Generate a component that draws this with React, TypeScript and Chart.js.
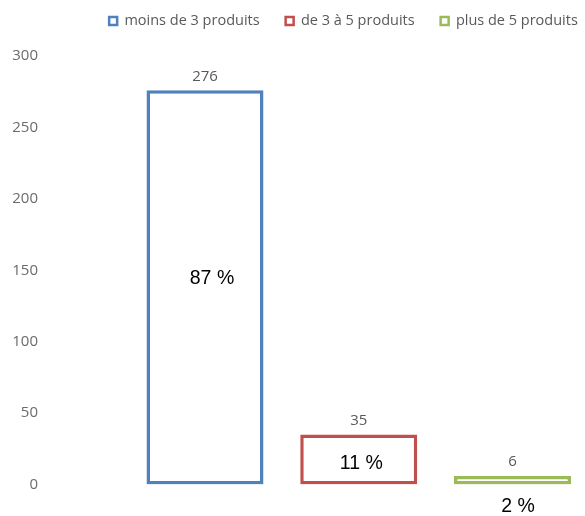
import React, { useEffect, useRef } from 'react';
import { Chart, registerables } from 'chart.js';

Chart.register(...registerables);

// ---- data ----
const categories = ['moins de 3 produits', 'de 3 à 5 produits', 'plus de 5 produits'];
const counts = [276, 35, 6];
const percents = [87, 11, 2];
const yTicks = [0, 50, 100, 150, 200, 250, 300];
const colors = ['#4F81BD', '#C0504D', '#9BBB59'];

// ---- styling / placement ----
const W = 585;
const H = 516;
const GRAY = '#595959';
const TICK_GRAY = '#6b6b6b';
const FONT = 'Open Sans';
// percent label placement relative to each bar
const pctPlacement = [
  { dx: 7, dy: -9, ref: 'mid' },
  { dx: 2.5, dy: 4.5, ref: 'mid' },
  { dx: 5.5, dy: 22, ref: 'base' },
];

const labelPlugin = {
  id: 'barLabels',
  afterDatasetsDraw(chart: any) {
    const ctx = chart.ctx;
    ctx.save();
    ctx.textAlign = 'center';
    ctx.textBaseline = 'middle';
    chart.data.datasets.forEach((_ds: any, i: number) => {
      const meta = chart.getDatasetMeta(i);
      const bar = meta.data[0];
      if (!bar) return;
      const { x, y, base } = bar.getProps(['x', 'y', 'base'], true);
      ctx.fillStyle = GRAY;
      ctx.font = `15px "${FONT}"`;
      ctx.fillText(String(counts[i]), x, y - 14);
      const p = pctPlacement[i];
      const ry = p.ref === 'mid' ? (y + base) / 2 : base;
      ctx.fillStyle = '#000000';
      ctx.font = '19.5px "Liberation Sans", Arial, sans-serif';
      ctx.fillText(`${percents[i]} %`, x + p.dx, ry + p.dy);
    });
    ctx.restore();
  },
};

export default function App() {
  const ref = useRef<HTMLCanvasElement>(null);

  useEffect(() => {
    if (!ref.current) return;
    const yAxisWidth = 60;
    const plotLeft = yAxisWidth;
    const plotRight = W;
    const firstCenter = 205;
    const unit = 153.75;

    const chart = new Chart(ref.current, {
      type: 'bar',
      data: {
        datasets: categories.map((label, i) => ({
          label,
          data: [{ x: i, y: counts[i] }],
          backgroundColor: '#ffffff',
          borderColor: colors[i],
          borderWidth: 3.5,
          borderSkipped: false,
          grouped: false,
          categoryPercentage: 1,
          barPercentage: 0.761,
        })),
      },
      options: {
        responsive: false,
        animation: false,
        devicePixelRatio: 1,
        layout: { padding: { top: -12.25, right: -102, bottom: 31.5, left: 0 } },
        plugins: {
          tooltip: { enabled: false },
          legend: {
            position: 'top',
            align: 'center',
            labels: {
              color: GRAY,
              font: { family: FONT, size: 14.5 },
              boxWidth: 8,
              boxHeight: 8,
              padding: 26,
              generateLabels: (c: any) =>
                Chart.defaults.plugins.legend.labels
                  .generateLabels(c)
                  .map((l: any) => ({ ...l, lineWidth: 2.5 })),
            },
          },
        },
        scales: {
          x: {
            type: 'linear',
            display: false,
            offset: false,
            min: (plotLeft - firstCenter) / unit,
            max: (plotRight - firstCenter) / unit,
            ticks: { stepSize: 1, includeBounds: false },
            afterBuildTicks: (s: any) => {
              s.ticks = categories.map((_c, i) => ({ value: i }));
            },
          },
          y: {
            min: 0,
            max: 312.5,
            grid: { display: false, drawTicks: false },
            border: { display: false },
            ticks: {
              stepSize: 50,
              includeBounds: false,
              padding: 22,
              color: TICK_GRAY,
              font: { family: FONT, size: 15 },
            },
            afterBuildTicks: (s: any) => {
              s.ticks = yTicks.map((v) => ({ value: v }));
            },
            afterFit: (s: any) => {
              s.width = yAxisWidth;
            },
          },
        },
      } as any,
      plugins: [labelPlugin],
    });
    return () => chart.destroy();
  }, []);

  return (
    <div style={{ position: 'absolute', left: 0, top: 0, width: W, height: H, background: '#fff' }}>
      <canvas ref={ref} width={W} height={H} style={{ display: 'block' }} />
    </div>
  );
}
